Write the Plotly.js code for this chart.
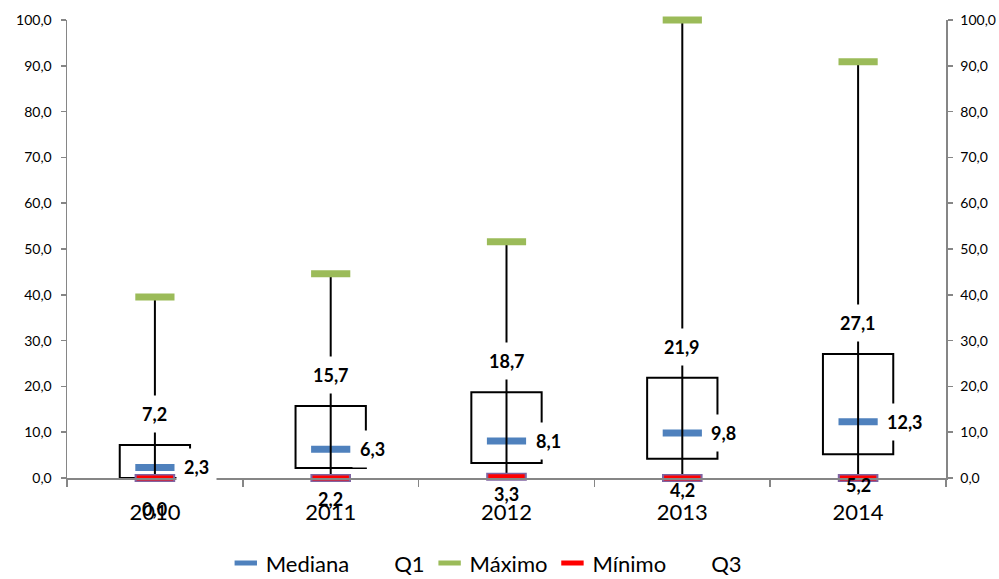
<!DOCTYPE html>
<html>
<head>
<meta charset="utf-8">
<script src="https://cdn.plot.ly/plotly-3.0.1.min.js"></script>
<style>html,body{margin:0;padding:0;background:#fff;}#chart{width:999px;height:579px;}</style>
</head>
<body>
<div id="chart"></div>
<script>
// ---- data ----
var years   = ["2010", "2011", "2012", "2013", "2014"];
var minimo  = [0.0, 0.0, 0.3, 0.0, 0.0];
var q1      = [0.0, 2.2, 3.3, 4.2, 5.2];
var mediana = [2.3, 6.3, 8.1, 9.8, 12.3];
var q3      = [7.2, 15.7, 18.7, 21.9, 27.1];
var maximo  = [39.5, 44.6, 51.6, 100.0, 90.9];
var yTicks  = [0, 10, 20, 30, 40, 50, 60, 70, 80, 90, 100];

var FONT = "Lato, 'Open Sans', 'DejaVu Sans', sans-serif";
function fmt(v){ return v.toFixed(1).replace('.', ','); }

var wx = [], wy = [];
years.forEach(function(y, i){ wx.push(y, y, null); wy.push(minimo[i], maximo[i], null); });

var traces = [
  { type: 'bar', x: years, base: q1, y: q3.map(function(v, i){ return v - q1[i]; }),
    width: 0.4, marker: { color: '#ffffff', line: { color: '#000000', width: 2 } },
    showlegend: false, hoverinfo: 'skip' },
  { type: 'scatter', mode: 'markers', name: 'Mediana', x: years, y: mediana, legendrank: 1,
    cliponaxis: false,
    marker: { symbol: 'line-ew', size: 28, color: '#4F81BD', line: { color: '#4F81BD', width: 7 } } },
  { type: 'scatter', mode: 'lines', x: wx, y: wy, connectgaps: false, cliponaxis: false,
    line: { color: '#000000', width: 2 }, showlegend: false, hoverinfo: 'skip' },
  { type: 'scatter', mode: 'markers', name: 'Máximo', x: years, y: maximo, legendrank: 3,
    cliponaxis: false,
    marker: { symbol: 'line-ew', size: 28, color: '#9BBB59', line: { color: '#9BBB59', width: 7 } } },
  { type: 'scatter', mode: 'markers', name: 'Mínimo_border', x: years, y: minimo, showlegend: false,
    cliponaxis: false,
    marker: { symbol: 'line-ew', size: 29, color: '#8064A2', line: { color: '#8064A2', width: 8 } } },
  { type: 'scatter', mode: 'markers', name: 'Mínimo', x: years, y: minimo, legendrank: 4,
    cliponaxis: false,
    marker: { symbol: 'line-ew', size: 26, color: '#FF0000', line: { color: '#FF0000', width: 5 } } },
  { type: 'scatter', mode: 'markers', name: 'Q1', x: years, y: q1, legendrank: 2,
    marker: { color: 'rgba(0,0,0,0)', size: 1 }, hoverinfo: 'skip' },
  { type: 'scatter', mode: 'markers', name: 'Q3', x: years, y: q3, legendrank: 5, yaxis: 'y2',
    marker: { color: 'rgba(0,0,0,0)', size: 1 }, hoverinfo: 'skip' }
];

var labelFont = { family: FONT, size: 18, color: '#000000' };
var annotations = [];
years.forEach(function(y, i){
  annotations.push({ xref: 'x', yref: 'y', x: i, y: q3[i], yshift: 31, text: '<b>' + fmt(q3[i]) + '</b>',
    showarrow: false, bgcolor: '#ffffff', borderpad: 7, font: labelFont, xanchor: 'center', yanchor: 'middle' });
  annotations.push({ xref: 'x', yref: 'y', x: i, y: mediana[i], xshift: 21, text: '<b>' + fmt(mediana[i]) + '</b>',
    showarrow: false, bgcolor: '#ffffff', borderpad: 7, font: labelFont, xanchor: 'left', yanchor: 'middle' });
  annotations.push({ xref: 'x', yref: 'y', x: i, y: q1[i], yshift: -31, text: '<b>' + fmt(q1[i]) + '</b>',
    showarrow: false, bgcolor: 'rgba(255,255,255,0)', borderpad: 7, font: labelFont, xanchor: 'center', yanchor: 'middle' });
});

var axisCommon = {
  range: [0, 100], tickvals: yTicks, tickformat: '.1f', showgrid: false, zeroline: false,
  showline: true, linecolor: '#868686', linewidth: 1.5, ticks: 'outside', ticklen: 5,
  tickcolor: '#868686', tickwidth: 1.5, tickfont: { family: FONT, size: 14, color: '#000000' },
  ticklabelstandoff: 6, fixedrange: true, automargin: false
};

var layout = {
  width: 999, height: 579,
  margin: { l: 67, r: 53, t: 20, b: 101, pad: 0, autoexpand: false },
  paper_bgcolor: '#ffffff', plot_bgcolor: '#ffffff',
  separators: ',.',
  showlegend: true,
  barmode: 'overlay',
  font: { family: FONT, color: '#000000' },
  xaxis: {
    type: 'category', categoryarray: years, tickson: 'boundaries', showgrid: false, zeroline: false,
    showline: true, linecolor: '#868686', linewidth: 1.5, ticks: 'outside', ticklen: 7,
    tickcolor: '#868686', tickwidth: 1.5, tickfont: { family: FONT, size: 22, color: '#000000' },
    ticklabelstandoff: 14, range: [-0.5, 4.5], fixedrange: true, automargin: false
  },
  yaxis: Object.assign({}, axisCommon, { side: 'left' }),
  yaxis2: Object.assign({}, axisCommon, { side: 'right', overlaying: 'y', anchor: 'x', ticklabelstandoff: 5 }),
  legend: { orientation: 'h', x: 0.477, xanchor: 'center', y: -0.186, yanchor: 'middle',
    font: { family: FONT, size: 22, color: '#000000' }, bgcolor: 'rgba(0,0,0,0)' },
  annotations: annotations
};

Plotly.newPlot('chart', traces, layout, { displayModeBar: false, staticPlot: true });
</script>
</body>
</html>
